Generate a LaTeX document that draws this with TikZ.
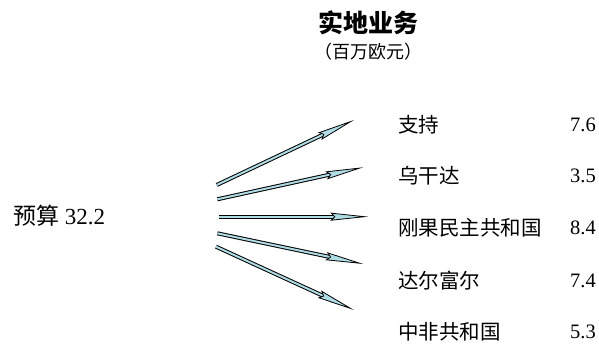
\documentclass[tikz,border=0pt]{standalone}
\usepackage{fontspec}
\setmainfont{Liberation Serif}
\newfontfamily\cjk{Noto Sans CJK SC}
\usetikzlibrary{arrows.meta}
\definecolor{arrowblue}{RGB}{175,220,228}
\begin{document}
\begin{tikzpicture}[x=1pt,y=1pt,
    dart/.style={double=arrowblue, double distance=2pt, line width=1pt,
      -{Stealth[length=38pt,width=8pt,inset=4pt,fill=arrowblue,line width=0.8pt]}},
    place/.style={anchor=west, inner sep=0pt, font=\cjk\fontsize{20.5}{24}\selectfont},
    amount/.style={anchor=west, inner sep=0pt, font=\fontsize{20.5}{24}\selectfont}]
        \useasboundingbox (0,0) rectangle (599,344);
        % title
        \node (title) at (368,321) {\cjk\bfseries\fontsize{25}{30}\selectfont 实地业务};
        \node (unit) at (368,292) {\cjk\fontsize{18}{22}\selectfont （百万欧元）};
        \node[anchor=west, inner sep=0pt] (budget) at (13,128)
          {\fontsize{23}{27}\selectfont{\cjk 预算} 32.2};
        % regions
        \node[place] (p1) at (398,219) {支持};
        \node[place] (p2) at (398,168) {乌干达};
        \node[place] (p3) at (398,116) {刚果民主共和国};
        \node[place] (p4) at (398,63) {达尔富尔};
        \node[place] (p5) at (398,12) {中非共和国};
        \node[amount] (v1) at (570,219) {7.6};
        \node[amount] (v2) at (570,168) {3.5};
        \node[amount] (v3) at (570,116) {8.4};
        \node[amount] (v4) at (570,63) {7.4};
        \node[amount] (v5) at (570,12) {5.3};
        % arrows
        \coordinate (s1) at (216.7,159);   \coordinate (e1) at (354,224);
        \coordinate (s2) at (217.3,144.7); \coordinate (e2) at (363.3,176.7);
        \coordinate (s3) at (219.3,127.3); \coordinate (e3) at (368.3,127.3);
        \coordinate (s4) at (217.3,110.7); \coordinate (e4) at (363.3,80);
        \coordinate (s5) at (216,97.3);    \coordinate (e5) at (354,34);
        \draw[dart] (s1) -- (e1);
        \draw[dart] (s2) -- (e2);
        \draw[dart] (s3) -- (e3);
        \draw[dart] (s4) -- (e4);
        \draw[dart] (s5) -- (e5);
\end{tikzpicture}
\end{document}
